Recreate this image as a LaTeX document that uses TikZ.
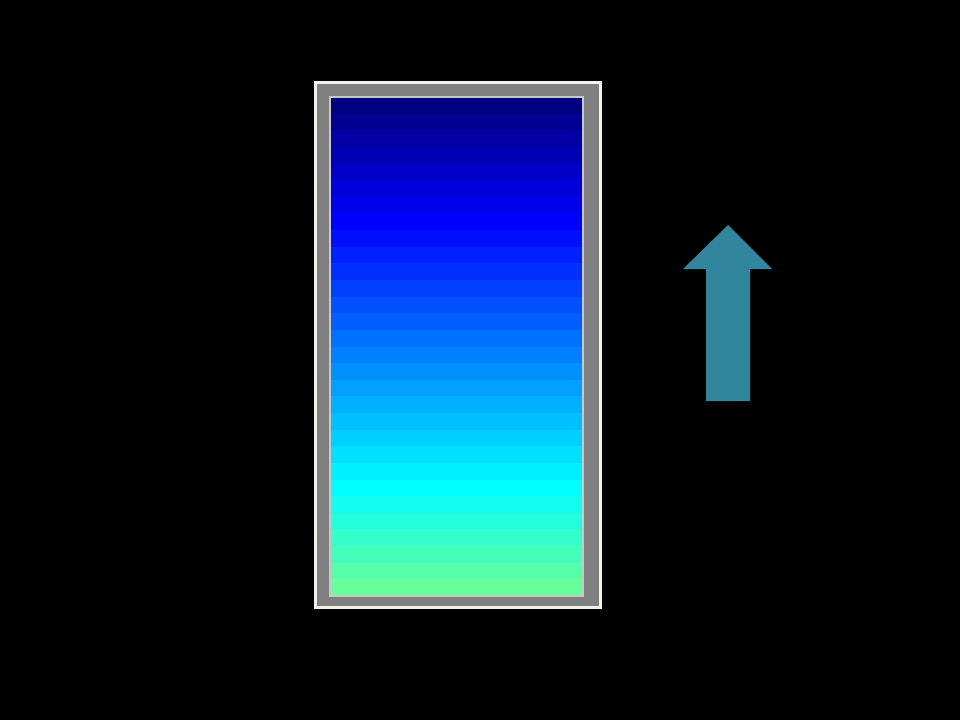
\documentclass[tikz,border=0pt]{standalone}
\usepackage{xcolor}
\usepackage{tikz}
\definecolor{cframe}{HTML}{808080}
\definecolor{cedge}{HTML}{F2F2EC}
\definecolor{cinner}{HTML}{C8C8C8}
\definecolor{carrow}{HTML}{31859C}
\tikzset{
  outer/.style={fill=cframe,draw=cedge,line width=1.2pt},
  inner/.style={draw=cinner,line width=0.6pt},
  uparrow/.style={fill=carrow,draw=none},
}

\begin{document}
\begin{tikzpicture}[x=0.02cm,y=-0.02cm]

% ================= canvas =================
\fill[black] (0,0) rectangle (960,720);
\useasboundingbox (0,0) rectangle (960,720);

% ================= column with colour bands =================
\filldraw[outer] (315.5,82.5) rectangle (600.5,607.5);
\foreach \k in {0,...,29}{
  \pgfmathtruncatemacro\rr{\k>23 ? 17*(\k-23) : 0}
  \pgfmathtruncatemacro\gg{\k<8 ? 0 : min(255,16*(\k-7))}
  \pgfmathtruncatemacro\bb{\k<8 ? 128+127*\k/7 : (\k>23 ? 255-17*(\k-23) : 255)}
  \definecolor{band}{RGB}{\rr,\gg,\bb}
  \fill[band] (330,{97+\k*499/30}) rectangle (583,{97+(\k+1)*499/30+0.4});
}
\draw[inner] (330,97) rectangle (583,596);

% ================= arrow =================
\coordinate (tip) at (728,225);
\fill[uparrow] (tip) -- (772,269) -- (750,269) -- (750,401)
               -- (706,401) -- (706,269) -- (683,269) -- cycle;

\end{tikzpicture}
\end{document}
